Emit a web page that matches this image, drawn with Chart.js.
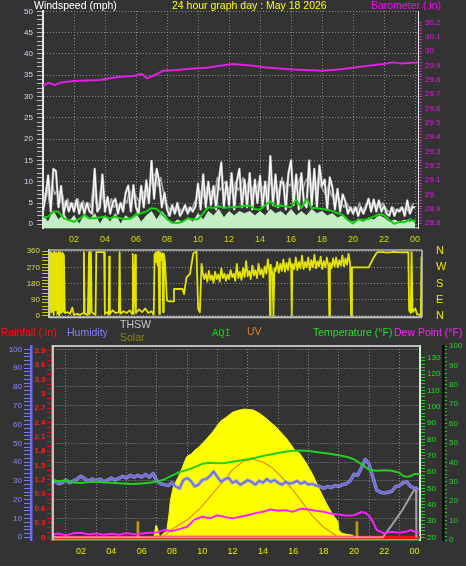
<!DOCTYPE html>
<html lang="en">
<head>
<meta charset="utf-8">
<title>24 hour graph</title>
<script src="https://cdn.jsdelivr.net/npm/chart.js@4.4.1/dist/chart.umd.min.js"></script>
<style>
  html, body { margin: 0; padding: 0; background: #333333; }
  body { position: relative; width: 466px; height: 566px; overflow: hidden; font-family: "Liberation Sans", Arial, sans-serif; }
  canvas { position: absolute; left: 0; }
  .caption { position: absolute; font-size: 10.5px; line-height: 11px; white-space: nowrap; }
  .mono { font-family: "Liberation Mono", "DejaVu Sans Mono", monospace; }
</style>
</head>
<body>
<canvas id="windChart" width="466" height="244" style="top:0px"></canvas>
<canvas id="directionChart" width="466" height="80" style="top:244px"></canvas>
<canvas id="climateChart" width="466" height="226" style="top:340px"></canvas>

<div class="caption" style="left:34px; top:0px; color:#ffffff">Windspeed (mph)</div>
<div class="caption" style="left:172px; top:0px; color:#ffff00">24 hour graph day : May 18 2026</div>
<div class="caption" style="left:371px; top:0px; color:#ff00ff">Barometer (.in)</div>

<div class="caption" style="left:0px; top:327px; color:#ff0000">Rainfall (.in)</div>
<div class="caption" style="left:67px; top:327px; color:#8080ff">Humidity</div>
<div class="caption" style="left:120px; top:319px; color:#c8c8c8">THSW</div>
<div class="caption" style="left:120px; top:332px; color:#8c8c00">Solar</div>
<div class="caption mono" style="left:212px; top:328px; color:#00e000">AQI</div>
<div class="caption" style="left:247px; top:326px; color:#e88020">UV</div>
<div class="caption" style="left:313px; top:327px; color:#20e020">Temperature (°F)</div>
<div class="caption" style="left:394px; top:327px; color:#ff20ff">Dew Point (°F)</div>

<script>
// labelled hour ticks (24 is shown as 00)
const hourTicks = [2, 4, 6, 8, 10, 12, 14, 16, 18, 20, 22, 24];
const compassPoints = ['N', 'E', 'S', 'W', 'N'];

// wind high, every 10 minutes (mph)
const gustMph = [
  3, 6.5, 11.5, 3, 13, 12.5,   4, 9, 2.5, 5.5, 3, 5,   3, 5.8, 2.5, 5, 2.5, 5,
  3, 2.5, 13, 3, 4, 11.7,   3, 6.4, 2.5, 5, 6, 2.5,   5, 3, 7.4, 9.1, 3, 9.2,
  4, 2.5, 9, 4, 10.3, 5,   14.9, 6, 13, 10, 4, 7.4,   3.5, 2, 4.5, 2.5, 5, 2,
  3, 4.5, 2.5, 4, 3, 4.2,   9.5, 3.5, 11.7, 4, 10, 4.5,   9, 3.5, 10, 14.5, 4, 10,
  4.5, 12, 3.5, 10, 13, 4,   10.5, 4, 12, 3.5, 10.5, 5,   11.4, 4, 10, 3.5, 16, 4.5,
  11.7, 4, 10, 9.8, 3.5, 12,   15, 4.5, 11.7, 3.5, 12, 5,   4, 15, 4.5, 13, 4, 13.8,
  9, 10.5, 3.5, 11, 8.7, 3.5,   8.3, 3, 7, 5.4, 2.5, 4,   2.5, 4, 2, 4, 2.5, 4,
  6, 3, 5.8, 3, 5.6, 3,   4.3, 2.5, 2, 4, 2, 3.5,   3, 4, 2, 5.6, 2.5, 4,
  4
];

// second (grey) high trace, every 10 minutes starting 0:05 (mph)
const gustGreyMph = [
  6, 9, 5, 10, 7, 8,   5, 7, 4, 6, 4, 5,   4, 6, 3.5, 5.5, 4, 5,
  4, 9, 5, 4, 9, 5,   5, 4, 6, 4, 5, 4,   4, 6, 5, 8, 6, 7,
  6, 5, 7, 8, 6, 9,   11, 12, 9, 11, 8, 5,   4, 3, 4, 3, 4, 3,
  4, 3, 4, 3, 5, 6,   7, 8, 6, 9, 7, 8,   7, 11, 8, 9, 10, 8,
  9, 7, 10, 8, 9, 11,   8, 10, 7, 9, 8, 10,   8, 9, 7, 11, 9, 8,
  9, 7, 11, 8, 10, 9,   10, 8, 9, 11, 8, 10,   11, 9, 10, 8, 11, 9,
  8, 7, 9, 7, 6, 7,   6, 5, 4, 5, 4, 3,   4, 3, 5, 3, 4, 5,
  5, 4, 5, 4, 4, 5,   4, 3, 3, 4, 3, 3,   4, 3, 4, 3, 4, 5
];

// 10 minute average wind, every 20 minutes (mph)
const windAvgMph = [
  1.7, 1.8, 3,   3, 1.4, 1,   0.6, 1.2, 2.2,   1.4, 1.4, 1.6,   1.8, 1.4, 1.8,   1.4, 1.2, 1.4,
  2.2, 2.6, 3,   3.8, 3.6, 2.5,   1.2, 0.4, 0.3,   0.6, 1.4, 1.2,   1.2, 2.6, 4,   3.8, 4.3, 3.8,
  4, 4, 4.2,   4.3, 4.4, 3.6,   3.4, 4.5, 5.4,   4.2, 4.4, 4.2,   4, 5.8, 3.8,   6, 3.8, 3.8,
  3.6, 3.4, 3.1,   2.6, 2.2, 1,   0.2, 1.2, 1,   1.3, 1.8, 2.4,   2.2, 1, 0.1,   0.6, 0.5, 1.2,
  0.6
];

// wind speed, every 20 minutes (mph)
const windSpeedMph = [
  2, 0.5, 3,   1, 2.5, 0.5,   2, 0, 2,   1, 2.5, 0,   2, 0.5, 2.5,   0, 2, 1,
  2.5, 0.5, 2,   3, 1, 3,   1.5, 0, 1,   0.5, 1.5, 0.5,   2.5, 1, 3,   2, 3.5, 1.5,
  3, 2, 3,   2.5, 3, 2,   3, 2, 3.5,   2.5, 3, 2,   3.5, 2, 3,   2, 3.5, 2.5,
  3, 2, 2.5,   1.5, 2, 1,   0.5, 1, 0.5,   1.5, 1, 2,   1.5, 0.5, 1,   0.5, 1, 0.5,
  1
];

const baroHours = [0, 0.34, 0.77, 1.1, 1.95, 3.68, 4.32, 4.97, 5.81, 6.37, 6.69, 7.23, 7.76, 8.63,
  9.7, 10.56, 11.42, 12.26, 13.55, 14.41, 16.13, 18.06, 19.35, 20.86, 21.94, 22.58, 23.01, 24.19];
const baroInHg = [29.758, 29.779, 29.763, 29.779, 29.791, 29.798, 29.81, 29.821, 29.826, 29.84, 29.81, 29.833, 29.863, 29.868,
  29.879, 29.884, 29.897, 29.909, 29.897, 29.886, 29.872, 29.863, 29.875, 29.895, 29.909, 29.921, 29.914, 29.921];

// wind direction (degrees)
const dirHours = [
  0.05, 0.12, 0.18, 0.24, 0.3, 0.36, 0.42, 0.48, 0.54, 0.6, 0.66, 0.72, 0.78, 0.84, 0.9, 0.96,
  1.02, 1.2, 1.35, 1.5, 1.6, 1.8, 2.0, 2.2, 2.25, 2.3, 2.5, 2.58, 2.62, 2.7, 2.75, 2.9,
  3.0, 3.05, 3.55, 3.6, 3.75, 3.85, 3.88, 3.92, 4.1, 4.3, 4.5, 4.55, 4.6, 4.8, 5.0, 5.2,
  5.35, 5.4, 5.45, 5.55, 5.6, 5.8, 6.0, 6.2, 6.4, 6.6, 6.75, 6.8, 6.85, 6.9, 6.95, 7.0,
  7.05, 7.1, 7.15, 7.2, 7.3, 7.35, 7.4, 7.47, 7.6, 7.75, 8.0, 8.05, 8.6, 8.7, 8.86, 9.08,
  9.3, 9.5, 9.61, 9.72, 9.83, 9.9,
  10.0, 10.1, 10.2, 10.3, 10.4, 10.5, 10.6, 10.7, 10.8, 10.9, 11.0, 11.1, 11.2, 11.3, 11.4, 11.5,
  11.6, 11.7, 11.8, 11.9, 12.0, 12.1, 12.2, 12.3, 12.4, 12.5, 12.6, 12.7, 12.8, 12.9, 13.0, 13.1,
  13.2, 13.3, 13.4, 13.5, 13.6, 13.7, 13.8, 13.9, 14.0, 14.1, 14.2, 14.24, 14.28, 14.4, 14.46, 14.52,
  14.6, 14.7, 14.8, 14.9, 15.0, 15.1, 15.2, 15.3, 15.4, 15.5, 15.6, 15.64, 15.68, 15.8, 15.9, 16.0,
  16.1, 16.2, 16.3, 16.4, 16.5, 16.6, 16.7, 16.8, 16.9, 17.0, 17.1, 17.2, 17.3, 17.4, 17.5, 17.6,
  17.7, 17.8, 17.9, 18.0, 18.06, 18.1, 18.2, 18.3, 18.4, 18.5, 18.6, 18.7, 18.8, 18.9, 19.0, 19.1,
  19.2, 19.3, 19.4, 19.46, 19.52, 20.6, 20.85, 21.1, 21.2, 21.5, 21.8, 22.2, 22.6, 23.15, 23.2, 23.3,
  23.36, 23.42, 23.6, 23.7, 23.85, 23.95, 24.0
];
const dirDegrees = [
  10, 355, 20, 350, 5, 358, 30, 350, 10, 355, 0, 355, 15, 350, 20, 340,
  15, 20, 10, 45, 5, 10, 5, 15, 355, 10, 5, 355, 10, 355, 20, 10,
  5, 355, 355, 10, 20, 5, 330, 10, 30, 15, 20, 355, 10, 25, 15, 30,
  10, 345, 10, 340, 15, 35, 20, 40, 15, 25, 5, 340, 350, 300, 355, 280,
  360, 10, 355, 310, 350, 20, 345, 300, 84, 80, 80, 149, 149, 121, 215, 233,
  349, 357, 37, 19, 289, 240,
  205, 235, 190, 250, 200, 225, 185, 245, 205, 230, 190, 265, 210, 235, 195, 230,
  205, 255, 215, 235, 195, 290, 210, 245, 200, 265, 215, 305, 220, 250, 205, 280,
  225, 255, 210, 290, 230, 260, 215, 275, 235, 315, 240, 3, 285, 230, 0, 265,
  250, 300, 240, 290, 250, 315, 245, 295, 255, 320, 265, 2, 290, 260, 325, 255,
  300, 265, 335, 260, 300, 270, 325, 255, 310, 270, 340, 265, 305, 275, 330, 260,
  305, 270, 325, 275, 0, 295, 265, 320, 275, 325, 270, 310, 280, 335, 275, 320,
  285, 345, 290, 0, 270, 270, 315, 350, 355, 355, 352, 356, 354, 355, 30, 15,
  355, 20, 40, 10, 5, 0, 330
];

// humidity every 15 minutes (%)
const humidityPct = [
  29.5, 30, 28.5, 29, 30.5, 29, 30, 31,   32.5, 31, 30, 31, 30, 31, 29.5, 30.5,
  31.5, 30.5, 31.5, 32.5, 31.5, 33, 32, 33,   32, 33.5, 32, 34, 30, 28.5, 28, 27.5,
  29, 27, 26, 30.5, 31.5, 30, 27, 28,   30.5, 31, 32.5, 35, 32, 29.5, 31, 31.5,
  29, 30, 28, 29, 30.5, 29.5, 28, 30,   29, 31, 29.5, 30.5, 29, 28, 29.5, 28.5,
  29, 30, 28.5, 29.5, 28, 28.5, 27.5, 27,   26, 27, 26.5, 27.5, 27, 28, 28.5, 30,
  33.5, 33, 37, 41.5, 39, 32, 25, 24,   23.5, 24, 24.5, 27, 27.5, 29, 29.5, 27,
  26, 25
];

const tempHours = [0, 0.5, 1, 1.5, 2, 2.5, 3, 3.5, 4, 4.5, 5, 5.5, 6, 6.5, 7, 7.5, 8, 8.5, 9, 9.5,
  10, 10.5, 11, 11.5, 12, 12.5, 13, 13.5, 14, 14.5, 15, 15.5, 16, 16.5, 17, 17.5, 18, 18.5, 19, 19.5,
  20, 20.5, 21, 21.5, 22, 22.5, 23, 23.25, 23.5, 23.75, 24, 24.4];
const tempF = [54.7, 54.5, 54.7, 53.5, 53.2, 53.8, 54, 53.7, 53.4, 53.1, 52.8, 52.6, 53, 53.4, 54, 55.5, 57.8, 60, 61.2, 63,
  65, 65.7, 65.3, 65.5, 66.3, 67, 67.8, 68.7, 69.8, 70.7, 71.6, 72.4, 73, 73.2, 72.8, 72.2, 71.6, 71, 70.2, 69.4,
  67.8, 64.8, 61.4, 60.8, 61.1, 60.8, 59.5, 57.5, 57, 57.5, 58.8, 58.8];

const dewHours = [0, 0.5, 1, 1.5, 2, 2.5, 3, 3.5, 4, 4.5, 5, 5.5, 6, 6.5, 7, 7.5, 8, 8.5, 9, 9.5,
  10, 10.5, 11, 11.5, 12, 12.5, 13, 13.5, 14, 14.5, 15, 15.5, 16, 16.5, 17, 17.5, 18, 18.5, 19, 19.5,
  20, 20.5, 20.75, 21, 21.25, 21.5, 22, 22.5, 23, 23.5, 23.75, 24, 24.4];
const dewF = [21.5, 22.3, 21.2, 22.5, 22.8, 21.8, 22.4, 21.6, 22.2, 21.5, 22.6, 21.8, 22.4, 22.8, 23, 24.5, 23.8, 25, 26.5, 31,
  32.6, 31.6, 33.5, 32.4, 31.6, 32.6, 33.5, 34.8, 35.7, 37, 36.2, 36.5, 35.7, 37.5, 37, 36.2, 35.7, 34.5, 34, 33.2,
  33.5, 35.5, 35, 33, 29.6, 24.5, 22.4, 23.4, 22.8, 23.5, 24.5, 23.4, 22.5];

const uvHours = [7.2, 7.6, 8.1, 9, 9.85, 10.7, 11.4, 12, 12.7, 13.35, 14, 14.66, 15.3, 16, 16.64, 17.3, 17.96, 18.6, 18.95];
const uvIndex = [0, 0.15, 0.48, 0.92, 1.54, 2.34, 3.0, 3.6, 4.05, 4.15, 4.0, 3.67, 3.14, 2.5, 1.8, 1.1, 0.56, 0.21, 0];

const solarHours = [6.8, 6.95, 7.05, 7.15, 7.2, 7.43, 7.65, 7.8, 7.9, 8.09, 8.53, 8.97, 9.3, 9.4, 9.85, 10.3, 10.7, 11.17, 11.6, 12.0,
  12.4, 12.8, 13.35, 13.8, 14.2, 14.88, 15.54, 16.1, 16.42, 16.86, 17.3, 17.74, 18.18, 18.62, 18.95, 19.0, 19.17, 19.5, 19.94, 20.05];
const solarWm2 = [0, 65, 45, 10, 0, 21, 30, 120, 198, 269, 340, 429, 445, 455, 486, 525, 562, 615, 640, 665,
  676, 682, 677, 658, 633, 585, 527, 464, 447, 394, 331, 252, 181, 119, 83, 40, 23, 16, 11, 0];
const solarMarkHours = [5.75, 20.2];
const solarMarkWm2 = [83, 83];

const thswHours = [0, 21.9, 22.5, 23.2, 23.9, 24.1, 24.12];
const thswF = [20, 20, 27.5, 36.7, 47.9, 50.5, 20];

const rainHours = [0, 24.4];
const rainIn = [0, 0];
const aqiHours = [0, 24.4];
const aqiValues = [0, 0];

const FONT = '"Liberation Sans", Arial, sans-serif';
const GRID = '#8a8a8a';

function pairs(xs, ys) {
    return xs.map((x, i) => ({ x: x, y: ys[i] }));
}

function sampled(values, stepHours, startHours = 0) {
    return values.map((y, i) => ({ x: startHours + i * stepHours, y: y }));
}

function isStep(value, step) {
    const r = value / step;
    return Math.abs(r - Math.round(r)) < 1e-6;
}

function tickValues(from, to, step) {
    const ticks = [];
    const count = Math.round((to - from) / step);
    for (let i = 0; i <= count; i++) {
        ticks.push({ value: +(from + i * step).toFixed(4) });
    }
    return ticks;
}

/**
 * y axis with minor ticks, labels only every labelEvery
 * (ticks.padding also pads the plot area, so keep it small)
 */
function valueAxis(o) {
    return {
        type: 'linear',
        position: o.position,
        weight: o.weight || 0,
        min: o.min,
        max: o.max,
        afterBuildTicks: scale => { scale.ticks = tickValues(o.from, o.to, o.step); },
        afterFit: scale => { scale.width = o.width; },
        ticks: {
            autoSkip: false,
            color: o.labelColor,
            padding: o.padding,
            font: { family: FONT, size: o.fontSize || 8, weight: o.bold ? 'bold' : 'normal', lineHeight: 1 },
            callback: v => (isStep(v, o.labelEvery) ? o.format(v) : '')
        },
        grid: {
            drawOnChartArea: !!o.gridColor,
            color: c => (o.gridColor && c.tick && isStep(c.tick.value, o.labelEvery)) ? o.gridColor : 'rgba(0,0,0,0)',
            tickColor: o.tickColor,
            tickLength: o.tickLength,
            lineWidth: 1
        },
        border: { display: true, color: o.lineColor, width: o.lineWidth || 1, dash: [1, 2] }
    };
}

function hourAxis(o) {
    return {
        type: 'linear',
        min: o.min,
        max: o.max,
        offset: false,
        afterBuildTicks: scale => { scale.ticks = hourTicks.map(h => ({ value: h })); },
        afterFit: scale => { scale.height = o.height; },
        ticks: {
            autoSkip: false,
            maxRotation: 0,
            color: o.labelColor,
            padding: o.padding,
            font: { family: FONT, size: 9 },
            callback: v => String(v % 24).padStart(2, '0')
        },
        grid: { color: GRID, drawTicks: false, lineWidth: 1 },
        border: { color: o.borderColor, width: 1.5, dash: [1, 2] }
    };
}

// frame lines round the plot area
function panelFrame(lines) {
    return {
        id: 'panelFrame',
        afterDraw(chart) {
            const { ctx, chartArea: a } = chart;
            ctx.save();
            lines.forEach(l => {
                const d = l.offset || 0;
                ctx.strokeStyle = l.color;
                ctx.lineWidth = l.width;
                ctx.beginPath();
                if (l.side === 'top') { ctx.moveTo(a.left, a.top + d); ctx.lineTo(a.right, a.top + d); }
                if (l.side === 'bottom') { ctx.moveTo(a.left, a.bottom - d); ctx.lineTo(a.right, a.bottom - d); }
                if (l.side === 'left') { ctx.moveTo(a.left + d, a.top); ctx.lineTo(a.left + d, a.bottom); }
                if (l.side === 'right') { ctx.moveTo(a.right - d, a.top); ctx.lineTo(a.right - d, a.bottom); }
                ctx.stroke();
            });
            ctx.restore();
        }
    };
}

function baseOptions(padding) {
    return {
        responsive: false,
        animation: false,
        devicePixelRatio: 1,
        events: [],
        layout: { padding: padding },
        plugins: { legend: { display: false }, tooltip: { enabled: false } },
        elements: { point: { radius: 0 }, line: { tension: 0, borderJoinStyle: 'round' } }
    };
}

class WeatherDayGraph {
    constructor() {
        this.charts = [];
    }

    render() {
        this.charts.push(this.createWindChart());
        this.charts.push(this.createDirectionChart());
        this.charts.push(this.createClimateChart());
    }

    /**
     * wind speed + barometer
     */
    createWindChart() {
        const gust = sampled(gustMph, 1 / 6);
        const options = baseOptions({ top: 11, left: 0, right: 0, bottom: 0 });
        options.scales = {
            x: hourAxis({ min: 0, max: 24.19, height: 16, padding: 6, labelColor: '#d8d800', borderColor: '#a8a8a8' }),
            wind: valueAxis({
                position: 'left', min: -0.87, max: 50.1, from: 0, to: 50, step: 1, labelEvery: 5,
                format: v => String(v), width: 43, labelColor: '#c8dcf8', tickColor: '#b8b8b8',
                tickLength: 6, padding: 4, lineColor: '#e8e8e8', lineWidth: 2, gridColor: GRID
            }),
            baro: valueAxis({
                position: 'right', min: 28.767, max: 30.279, from: 28.8, to: 30.2, step: 0.02, labelEvery: 0.1,
                format: v => String(+v.toFixed(1)), width: 48, labelColor: '#e020e0', tickColor: '#d020d0',
                tickLength: 4, padding: 3, lineColor: '#e8e8e8', lineWidth: 1
            })
        };
        return new Chart(document.getElementById('windChart'), {
            type: 'line',
            data: {
                datasets: [
                    { data: pairs(baroHours, baroInHg), yAxisID: 'baro', borderColor: '#e020e0', borderWidth: 2 },
                    { data: sampled(windAvgMph, 1 / 3), yAxisID: 'wind', borderColor: '#10d010', borderWidth: 2 },
                    { data: sampled(windSpeedMph, 1 / 3), yAxisID: 'wind', borderColor: '#c4eec4', borderWidth: 1,
                      backgroundColor: '#c4eec4', fill: 'start' },
                    { data: gust, yAxisID: 'wind', borderColor: '#ffffff', borderWidth: 1.2 },
                    { data: gust, yAxisID: 'wind', borderColor: '#b0b0b0', borderWidth: 2.4 },
                    { data: sampled(gustGreyMph, 1 / 6, 1 / 12), yAxisID: 'wind', borderColor: '#a8a8a8', borderWidth: 1.6 }
                ]
            },
            options: options
        });
    }

    /**
     * wind direction
     */
    createDirectionChart() {
        const options = baseOptions({ top: 6, left: 0, right: 0, bottom: 6.7 });
        options.scales = {
            x: { type: 'linear', display: false, min: 0, max: 24.03 },
            dir: valueAxis({
                position: 'left', min: -9, max: 367, from: 0, to: 360, step: 18, labelEvery: 90,
                format: v => String(v), width: 49, labelColor: '#d8d860', tickColor: '#c8c800',
                tickLength: 7, padding: 2, lineColor: '#c8c8c8', lineWidth: 2, gridColor: GRID
            }),
            compass: {
                type: 'linear', position: 'right', min: -9, max: 367,
                afterBuildTicks: scale => { scale.ticks = [0, 90, 180, 270, 360].map(v => ({ value: v })); },
                afterFit: scale => { scale.width = 44; },
                ticks: {
                    autoSkip: false, color: '#e8e800', padding: 0,
                    font: { family: FONT, size: 11, lineHeight: 1 },
                    callback: v => compassPoints[Math.round(v / 90)]
                },
                grid: { drawOnChartArea: false, drawTicks: true, tickLength: 14, tickColor: 'rgba(0,0,0,0)' },
                border: { display: false }
            }
        };
        return new Chart(document.getElementById('directionChart'), {
            type: 'line',
            data: {
                datasets: [
                    { data: pairs(dirHours, dirDegrees), yAxisID: 'dir', borderColor: '#e4e400', borderWidth: 1.8 }
                ]
            },
            options: options,
            plugins: [panelFrame([
                { side: 'top', color: '#b4b4b4', width: 1.5 },
                { side: 'right', color: '#c4c4c4', width: 1.5 },
                { side: 'bottom', color: '#c4c4c4', width: 2 }
            ])]
        });
    }

    /**
     * rain / humidity / solar / uv / temperature / dew point
     */
    createClimateChart() {
        const humidity = sampled(humidityPct, 0.25);
        const options = baseOptions({ top: 6, left: 0, right: 0, bottom: 0 });
        options.scales = {
            x: hourAxis({ min: 0.086, max: 24.36, height: 26, padding: 6, labelColor: '#e8e800', borderColor: '#70c050' }),
            hum: valueAxis({
                position: 'left', weight: 1, min: -1.44, max: 101.76, from: 0, to: 100, step: 2, labelEvery: 10,
                format: v => String(v), width: 31, labelColor: '#8c8cff', tickColor: '#7878f0',
                tickLength: 7, padding: 2, lineColor: '#6c6cf0', lineWidth: 2.5, gridColor: GRID
            }),
            rain: valueAxis({
                position: 'left', weight: 0, min: -0.0564, max: 3.998, from: 0, to: 3.9, step: 0.1, labelEvery: 0.3,
                format: v => String(+v.toFixed(1)), width: 21, labelColor: '#ff2020', bold: true, tickColor: '#e01010',
                tickLength: 5, padding: 1.5, lineColor: '#ff3030', lineWidth: 1.5
            }),
            temp: valueAxis({
                position: 'right', weight: 0, min: 18.35, max: 137.17, from: 20, to: 130, step: 2, labelEvery: 10,
                format: v => String(v), width: 23, labelColor: '#20e020', tickColor: '#20d020',
                tickLength: 5, padding: 2, lineColor: '#d0f8d0', lineWidth: 2
            }),
            aqi: valueAxis({
                position: 'right', weight: 1, min: 0, max: 100, from: 0, to: 100, step: 2, labelEvery: 10,
                format: v => String(v), width: 23, labelColor: '#30d030', tickColor: '#20c020',
                tickLength: 4, padding: 2, lineColor: '#0c0c0c', lineWidth: 2.5
            }),
            solar: { type: 'linear', display: false, min: -14.4, max: 1017.6 },
            uv: { type: 'linear', display: false, min: -0.144, max: 10.176 }
        };
        return new Chart(document.getElementById('climateChart'), {
            type: 'line',
            data: {
                datasets: [
                    { data: pairs(tempHours, tempF), yAxisID: 'temp', borderColor: '#20d020', borderWidth: 2 },
                    { data: humidity, yAxisID: 'hum', borderColor: '#6464e0', borderWidth: 1.2 },
                    { data: humidity, yAxisID: 'hum', borderColor: 'rgba(150,150,235,0.85)', borderWidth: 3.5 },
                    { data: pairs(dewHours, dewF), yAxisID: 'temp', borderColor: '#ff20ff', borderWidth: 2 },
                    { data: pairs(uvHours, uvIndex), yAxisID: 'uv', borderColor: '#e88a20', borderWidth: 1.2 },
                    { data: pairs(thswHours, thswF), yAxisID: 'temp', borderColor: 'rgba(230,230,230,0.6)', borderWidth: 2 },
                    { type: 'bar', data: pairs(solarMarkHours, solarMarkWm2), yAxisID: 'solar',
                      backgroundColor: '#c0a000', barThickness: 2, grouped: false },
                    { data: pairs(aqiHours, aqiValues), yAxisID: 'aqi', borderColor: '#50d040', borderWidth: 2 },
                    { data: pairs(rainHours, rainIn), yAxisID: 'rain', borderColor: '#ff1010', borderWidth: 3 },
                    { data: pairs(solarHours, solarWm2), yAxisID: 'solar', borderColor: '#ffff00', borderWidth: 1,
                      backgroundColor: '#ffff00', fill: 'origin' }
                ]
            },
            options: options,
            plugins: [panelFrame([
                { side: 'top', color: '#bcbcbc', width: 2 },
                { side: 'left', color: '#f0f0f0', width: 1.5, offset: 1 }
            ])]
        });
    }
}

const graph = new WeatherDayGraph();
graph.render();
</script>
</body>
</html>
